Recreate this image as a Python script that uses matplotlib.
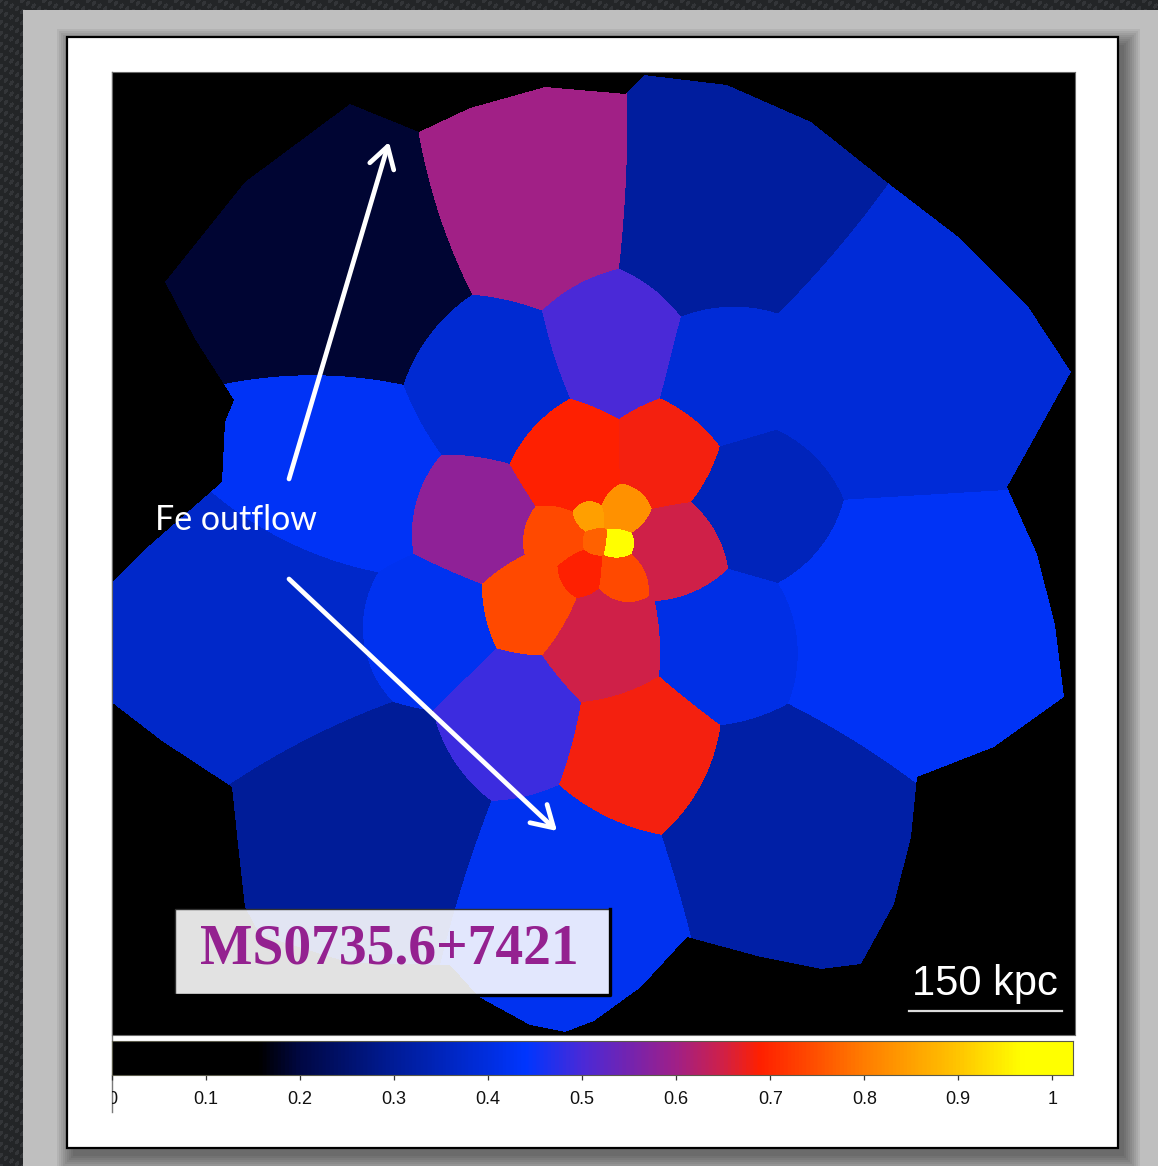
import numpy as np
import matplotlib
matplotlib.use("Agg")
import matplotlib.pyplot as plt
from matplotlib.colors import LinearSegmentedColormap
from matplotlib.patches import Rectangle, FancyArrowPatch
from matplotlib.path import Path
from matplotlib.lines import Line2D
from matplotlib.transforms import Bbox, TransformedBbox, blended_transform_factory

# ---------------------------------------------------------------------------
# Fe abundance map of MS0735.6+7421, WVT bins (image pixels, 150 kpc ~ 153 px)
# bin generator position, bin scale length and Fe abundance (solar)
bin_x = [213, 423, 610, 803, 818, 678, 458, 238, 128, 208,
         378, 500, 618, 658, 618, 308, 403, 358, 456, 553,
         570, 493, 528, 418, 440, 467, 512, 476, 514, 483, 507]
bin_y = [780, 850, 840, 665, 415, 190, 125, 195, 405, 565,
         655, 695, 665, 530, 390, 407, 310, 520, 580, 583,
         483, 387, 278, 430, 500, 460, 455, 520, 528, 494, 491]
bin_scale = [140, 116, 124, 140, 140, 120, 110, 120, 140, 110,
             80, 70, 70, 70, 70, 65, 65, 60, 55, 50,
             45, 55, 75, 45, 30, 22, 24, 15, 22, 12, 14]
fe_abund = [0.19, 0.60, 0.31, 0.39, 0.43, 0.32, 0.42, 0.30, 0.37, 0.43,
            0.38, 0.50, 0.39, 0.35, 0.41, 0.42, 0.49, 0.58, 0.69, 0.68,
            0.65, 0.65, 0.68, 0.74, 0.74, 0.69, 0.74, 0.85, 0.83, 0.77, 0.97]

# outline of the region covered by the bins
footprint_x = [238, 307, 358, 433, 514, 532, 615, 699, 772, 849, 915, 959,
               895, 925, 943, 952, 882, 805, 799, 782, 749, 709, 649, 575,
               529, 482, 453, 418, 367, 338, 238, 148, 133, 127, 120, 50,
               -2, -2, 30, 110, 113, 122, 83, 53, 133]
footprint_y = [931, 903, 927, 948, 941, 960, 950, 913, 855, 796, 730, 663,
               548, 481, 410, 338, 288, 258, 198, 131, 71, 66, 78, 98,
               48, 14, 3, 10, 38, 70, 72, 100, 128, 181, 248, 294,
               334, 450, 483, 553, 613, 635, 696, 753, 853]
map_size = 963

# colour scale
cmap_levels = [0.0, 0.155, 0.2, 0.3, 0.4, 0.44, 0.5, 0.55, 0.6, 0.65,
               0.69, 0.75, 0.8, 0.85, 0.9, 0.97, 1.022]
cmap_colors = ["#000000", "#000000", "#000845", "#001c98", "#002ee0",
               "#0036ff", "#4a2ad8", "#7424b0", "#a02088", "#d02048",
               "#ff2000", "#ff5000", "#ff7c00", "#ffa000", "#ffc400",
               "#ffff00", "#ffff00"]
vmin, vmax = 0.0, 1.022
cbar_ticks = [0, 0.1, 0.2, 0.3, 0.4, 0.5, 0.6, 0.7, 0.8, 0.9, 1]
cbar_labels = ["0", "0.1", "0.2", "0.3", "0.4", "0.5", "0.6", "0.7",
               "0.8", "0.9", "1"]

cluster_name = "MS0735.6+7421"
outflow_label = "Fe outflow"
scale_label = "150 kpc"
scale_length_px = 153

cmap = LinearSegmentedColormap.from_list(
    "fe_heat", [(lv / vmax, c) for lv, c in zip(cmap_levels, cmap_colors)])
cmap.set_bad("black")

# --- rasterise the weighted Voronoi bins --------------------------------------
gx, gy = np.meshgrid(np.arange(map_size) + 0.5, np.arange(map_size) + 0.5)
best = np.full(gx.shape, np.inf, dtype=np.float32)
owner = np.zeros(gx.shape, dtype=int)
for i, (bx, by, bs) in enumerate(zip(bin_x, bin_y, bin_scale)):
    d = (np.hypot(gx - bx, gy - by) / bs).astype(np.float32)
    closer = d < best
    best[closer] = d[closer]
    owner[closer] = i
fe_map = np.asarray(fe_abund)[owner]
inside = Path(np.column_stack([footprint_x, footprint_y])).contains_points(
    np.column_stack([gx.ravel(), gy.ravel()])).reshape(gx.shape)
fe_map = np.where(inside, fe_map, np.nan)

# --- figure --------------------------------------------------------------------
W, H = 1158, 1166
fig = plt.figure(figsize=(W / 100, H / 100), dpi=100)

bg = fig.add_axes([0, 0, 1, 1])
bg.set_xlim(0, W)
bg.set_ylim(H, 0)
bg.axis("off")
# dark textured backdrop
ty, tx = np.mgrid[0:H, 0:W]
texture = 0.14 + 0.06 * (np.cos(2 * np.pi * tx / 11.0) *
                         np.cos(2 * np.pi * (ty + 0.5 * tx) / 11.0) > 0.3)
bg.imshow(np.dstack([texture, texture * 1.05, texture * 1.1]).clip(0, 1),
          extent=(0, W, H, 0), interpolation="bilinear", zorder=0)
bg.add_patch(Rectangle((23, 10), W - 23, H - 10, color="#bfbfbf", lw=0,
                       zorder=1))
for spread in np.linspace(16, 0, 9):
    bg.add_patch(Rectangle((67 + 6 - spread, 37 + 8 - spread),
                           1051 + 2 * spread, 1111 + 2 * spread,
                           color="black", alpha=0.06, lw=0, zorder=2))
bg.add_patch(Rectangle((67, 37), 1051, 1111, facecolor="white",
                       edgecolor="black", lw=1.6, zorder=3))
bg.add_line(Line2D([112, 112], [72, 1112], color="#7a7a7a", lw=1.0,
                   zorder=4))
bg.set_xlim(0, W)
bg.set_ylim(H, 0)

# map panel
ax = fig.add_axes([112 / W, 1 - 1035 / H, 963 / W, 963 / H])
ax.set_facecolor("black")
ax.imshow(fe_map, extent=(0, map_size, 0, map_size), origin="lower",
          cmap=cmap, vmin=vmin, vmax=vmax, interpolation="nearest")
ax.set_xlim(0, map_size)
ax.set_ylim(0, map_size)
ax.set_xticks([])
ax.set_yticks([])
for sp in ax.spines.values():
    sp.set_color("#6a6a6a")
    sp.set_linewidth(0.8)

# outflow arrows and label
arrow_style = "->,head_length=0.75,head_width=0.45"
for tail, tip in [((177, 556), (277, 893)), ((177, 456), (445, 204))]:
    ax.add_patch(FancyArrowPatch(tail, tip, arrowstyle=arrow_style,
                                 mutation_scale=20, lw=3.4, color="white",
                                 shrinkA=0, shrinkB=0, zorder=5))
ax.text(43, 505, outflow_label, color="white", fontsize=24.5,
        family=["Lato", "DejaVu Sans"], va="baseline", ha="left", zorder=6)

# cluster name box
ax.add_patch(Rectangle((63, 40), 435, 86, facecolor=(1, 1, 1, 0.89),
                       edgecolor="#333333", lw=1.0, zorder=6))
ax.add_line(Line2D([498, 498, 63], [126, 40, 40], color="black", lw=2.4,
                   zorder=7))
ax.text(277, 71, cluster_name, color="#942190", fontsize=40,
        family=["Liberation Serif", "DejaVu Serif"], weight="bold",
        ha="center", va="baseline", zorder=8)

# scale bar
ax.add_line(Line2D([797, 797 + scale_length_px], [24, 24], color="#dcdcdc",
                   lw=1.6, zorder=6))
ax.text(873, 40, scale_label, color="white", fontsize=30,
        family=["Liberation Sans", "DejaVu Sans"], ha="center",
        va="baseline", zorder=6)

# colour bar
cax = fig.add_axes([112 / W, 1 - 1075 / H, 961 / W, 34 / H])
grad = np.linspace(vmin, vmax, 1200)[None, :]
cax.imshow(grad, aspect="auto", extent=(vmin, vmax, 0, 1), cmap=cmap,
           vmin=vmin, vmax=vmax, interpolation="bilinear")
cax.set_xlim(vmin, vmax)
cax.set_ylim(0, 1)
cax.set_yticks([])
cax.set_xticks(cbar_ticks)
cax.tick_params(axis="x", direction="out", length=3.8, width=0.9,
                color="#333333", labelbottom=False)
for sp in cax.spines.values():
    sp.set_color("#5a5a4a")
    sp.set_linewidth(0.8)
tr = blended_transform_factory(cax.transData, cax.transAxes)
clip = TransformedBbox(Bbox([[0, -3], [1.05, 1]]), cax.transAxes)
for t, lab in zip(cbar_ticks, cbar_labels):
    txt = cax.text(t, -0.48, lab, transform=tr, ha="center", va="top",
                   fontsize=13, family=["Liberation Sans", "DejaVu Sans"],
                   color="#111111")
    txt.set_clip_box(clip)
    txt.set_clip_on(True)

fig.savefig("out.png", dpi=100)
